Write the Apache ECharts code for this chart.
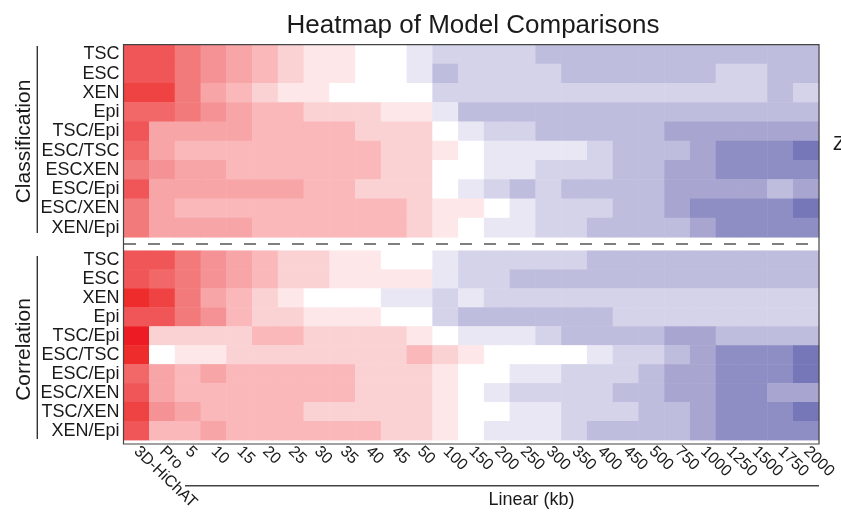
<!DOCTYPE html>
<html><head><meta charset="utf-8">
<script src="https://cdn.jsdelivr.net/npm/echarts@6/dist/echarts.min.js"></script>
<style>html,body{margin:0;padding:0;background:#fff}#c{width:841px;height:513px}</style>
</head><body><div id="c"></div>
<script>
// ---- categories ----
const columns = ['3D-HiChAT','Pro','5','10','15','20','25','30','35','40','45','50','100','150','200','250','300','350','400','450','500','750','1000','1250','1500','1750','2000'];
const classRows = ['TSC','ESC','XEN','Epi','TSC/Epi','ESC/TSC','ESCXEN','ESC/Epi','ESC/XEN','XEN/Epi'];
const corrRows  = ['TSC','ESC','XEN','Epi','TSC/Epi','ESC/TSC','ESC/Epi','ESC/XEN','TSC/XEN','XEN/Epi'];

// ---- Classification values (z-score, per column) ----
const clsTSC    = [4,4,3,2.5,2,1.5,1,0.5,0.5,0,0,-0.5,-1,-1,-1,-1,-1.5,-1.5,-1.5,-1.5,-1.5,-1.5,-1.5,-1.5,-1.5,-1.5,-1.5];
const clsESC    = [4,4,3,2.5,2,1.5,1,0.5,0.5,0,0,-0.5,-1.5,-1,-1,-1,-1,-1.5,-1.5,-1.5,-1.5,-1.5,-1.5,-1,-1,-1.5,-1.5];
const clsXEN    = [4.5,4.5,3,2,1.5,1,0.5,0.5,0,0,0,0,-1,-1,-1,-1,-1,-1,-1,-1,-1,-1,-1,-1,-1,-1.5,-1];
const clsEpi    = [3.5,3.5,3,2.5,2,1.5,1.5,1,1,1,0.5,0.5,-0.5,-1.5,-1.5,-1.5,-1.5,-1.5,-1.5,-1.5,-1.5,-1.5,-1.5,-1.5,-1.5,-1.5,-1.5];
const clsTSCEpi = [4,2,2,2,2,1.5,1.5,1.5,1.5,1,1,1,0,-0.5,-1,-1,-1.5,-1.5,-1.5,-1.5,-1.5,-2,-2,-2,-2,-2,-2];
const clsESCTSC = [3.5,2,1.5,1.5,1.5,1.5,1.5,1.5,1.5,1.5,1,1,0.5,0,-0.5,-0.5,-0.5,-0.5,-1,-1.5,-1.5,-1.5,-2,-2.5,-2.5,-2.5,-3];
const clsESCXEN = [3,2.5,2,2,1.5,1.5,1.5,1.5,1.5,1.5,1,1,0,0,-0.5,-0.5,-1,-1,-1,-1.5,-1.5,-2,-2,-2.5,-2.5,-2.5,-2.5];
const clsESCEpi = [4,2,2,2,2,2,2,1.5,1.5,1,1,1,0,-0.5,-1,-1.5,-1,-1.5,-1.5,-1.5,-1.5,-2,-2,-2,-2,-1.5,-2];
const clsESC_XEN= [3,2,1.5,1.5,1.5,1.5,1.5,1.5,1.5,1.5,1.5,1,0.5,0.5,0,-0.5,-1,-1,-1,-1.5,-1.5,-2,-2.5,-2.5,-2.5,-2.5,-3];
const clsXENEpi = [3,2,2,2,2,1.5,1.5,1.5,1.5,1.5,1.5,1,0.5,0,-0.5,-0.5,-1,-1,-1.5,-1.5,-1.5,-1.5,-2,-2.5,-2.5,-2.5,-2.5];

// ---- Correlation values ----
const corTSC    = [4,4,3,2.5,2,1.5,1,1,0.5,0.5,0,0,-0.5,-1,-1,-1,-1,-1,-1.5,-1.5,-1.5,-1.5,-1.5,-1.5,-1.5,-1.5,-1.5];
const corESC    = [4,3.5,3,2.5,2,1.5,1,1,0.5,0.5,0.5,0.5,-0.5,-1,-1,-1.5,-1.5,-1.5,-1.5,-1.5,-1.5,-1.5,-1.5,-1.5,-1.5,-1.5,-1.5];
const corXEN    = [5,4.5,3,2,1.5,1,0.5,0,0,0,-0.5,-0.5,-1,-0.5,-1,-1,-1,-1,-1,-1,-1,-1,-1,-1,-1,-1,-1];
const corEpi    = [4,4,3,2.5,1.5,1,1,0.5,0.5,0.5,0,0,-1,-1.5,-1.5,-1.5,-1.5,-1.5,-1.5,-1,-1,-1,-1,-1,-1,-1,-1];
const corTSCEpi = [5.5,1,1,1,1,1.5,1.5,1,1,1,1,0.5,0,-0.5,-0.5,-0.5,-1,-1.5,-1.5,-1.5,-1.5,-2,-2,-1.5,-1.5,-1.5,-1.5];
const corESCTSC = [5,0,0.5,0.5,1,1,1,1,1,1,1,1.5,1,0.5,0,0,0,0,-0.5,-1,-1,-1.5,-2,-2.5,-2.5,-2.5,-3];
const corESCEpi = [3.5,2,1.5,2,1.5,1.5,1.5,1.5,1.5,1,1,1,0.5,0,0,-0.5,-0.5,-1,-1,-1,-1.5,-2,-2,-2.5,-2.5,-2.5,-3];
const corESCXEN = [4,2,1.5,1.5,1.5,1.5,1.5,1.5,1.5,1,1,1,0.5,0,-0.5,-1,-1,-1,-1,-1.5,-1.5,-2,-2,-2.5,-2.5,-2,-2];
const corTSCXEN = [4.5,2.5,2,1.5,1.5,1.5,1.5,1,1,1,1,1,0.5,0,0,-0.5,-0.5,-1,-1,-1,-1.5,-1.5,-2,-2.5,-2.5,-2.5,-3];
const corXENEpi = [4,1.5,1.5,2,1.5,1.5,1.5,1.5,1.5,1.5,1,1,0.5,0,-0.5,-0.5,-0.5,-1,-1.5,-1.5,-1.5,-1.5,-2,-2.5,-2.5,-2.5,-2.5];

const classValues = [clsTSC,clsESC,clsXEN,clsEpi,clsTSCEpi,clsESCTSC,clsESCXEN,clsESCEpi,clsESC_XEN,clsXENEpi];
const corrValues  = [corTSC,corESC,corXEN,corEpi,corTSCEpi,corESCTSC,corESCEpi,corESCXEN,corTSCXEN,corXENEpi];

// ---- colour levels ----
const levelValues = [5.5,5,4.5,4,3.5,3,2.5,2,1.5,1,0.5,0,-0.5,-1,-1.5,-2,-2.5,-3];
const levelColors = ['#ED1C24','#EE2C2C','#EF4343','#F05558','#F26767','#F37A7B','#F59295','#F7A5A7','#FAB8BB','#FBD2D3','#FDE7E8','#FFFFFF','#E9E7F3','#D5D3EA','#BEBDDD','#A8A6D0','#8F8EC4','#7677B8'];

function toCells(rows){
  const out = [];
  rows.forEach((arr, r) => arr.forEach((v, c) => out.push([c, r, v])));
  return out;
}

// layout
const PL = 123.5, PR = 819, T1 = 44.7, B1 = 237.3, T2 = 250.7, B2 = 444, W = 841, H = 513;

const chart = echarts.init(document.getElementById('c'), null, {renderer:'canvas'});
const txt = '#1a1a1a';
const ff = 'Liberation Sans, Arial, Helvetica, sans-serif';

chart.setOption({
  backgroundColor: '#fff',
  animation: false,
  textStyle: {fontFamily: ff},
  title: {text: 'Heatmap of Model Comparisons', left: 468, top: 8, textAlign: 'center',
          textStyle: {fontSize: 26, fontWeight: 'normal', color: txt, fontFamily: ff}},
  grid: [
    {left: PL, right: W - PR, top: T1, height: B1 - T1},
    {left: PL, right: W - PR, top: T2, height: B2 - T2}
  ],
  xAxis: [
    {type:'category', gridIndex:0, data: columns, show:false},
    {type:'category', gridIndex:1, data: columns,
     axisLine:{show:false}, axisTick:{show:false},
     axisLabel:{interval:0, rotate:-44, margin:9, fontSize:16, color: txt, fontFamily: ff}}
  ],
  yAxis: [
    {type:'category', gridIndex:0, data: classRows, inverse:true,
     axisLine:{show:false}, axisTick:{show:false},
     axisLabel:{interval:0, margin:4, fontSize:18, color: txt, fontFamily: ff, padding:[0,0,5,0]}},
    {type:'category', gridIndex:1, data: corrRows, inverse:true,
     axisLine:{show:false}, axisTick:{show:false},
     axisLabel:{interval:0, margin:4, fontSize:18, color: txt, fontFamily: ff, padding:[0,0,5,0]}}
  ],
  visualMap: {
    type:'piecewise', show:false, dimension:2, seriesIndex:[0,1],
    pieces: levelValues.map((v,i)=>({gte: v-0.25, lt: v+0.25, color: levelColors[i]}))
  },
  series: [
    {type:'heatmap', xAxisIndex:0, yAxisIndex:0, data: toCells(classValues), itemStyle:{borderWidth:0}},
    {type:'heatmap', xAxisIndex:1, yAxisIndex:1, data: toCells(corrValues), itemStyle:{borderWidth:0}}
  ],
  graphic: [
    {type:'rect', silent:true, z:100, shape:{x:PL, y:T1, width:PR-PL, height:B2-T1},
     style:{fill:null, stroke:'#444', lineWidth:1.2}},
    {type:'line', silent:true, z:100, shape:{x1:PL+0.5, y1:(B1+T2)/2, x2:PR, y2:(B1+T2)/2},
     style:{stroke:'#555', lineWidth:1.4, lineDash:[12,12]}},
    {type:'line', silent:true, shape:{x1:37.3, y1:46, x2:37.3, y2:233}, style:{stroke:'#333', lineWidth:1.4}},
    {type:'line', silent:true, shape:{x1:37.3, y1:256, x2:37.3, y2:439}, style:{stroke:'#333', lineWidth:1.4}},
    {type:'text', silent:true, x:24.5, y:141.5, rotation:Math.PI/2,
     style:{text:'Classification', font:'21px '+ff, fill:txt, textAlign:'center', textVerticalAlign:'middle'}},
    {type:'text', silent:true, x:24.5, y:349.5, rotation:Math.PI/2,
     style:{text:'Correlation', font:'21px '+ff, fill:txt, textAlign:'center', textVerticalAlign:'middle'}},
    {type:'line', silent:true, shape:{x1:185, y1:485.7, x2:PR, y2:485.7}, style:{stroke:'#444', lineWidth:1.5}},
    {type:'text', silent:true, x:531.5, y:500,
     style:{text:'Linear (kb)', font:'18px '+ff, fill:txt, textAlign:'center', textVerticalAlign:'middle'}},
    {type:'text', silent:true, x:833, y:144,
     style:{text:'Z-score', font:'20px '+ff, fill:txt, textAlign:'left', textVerticalAlign:'middle'}}
  ]
});
</script></body></html>
